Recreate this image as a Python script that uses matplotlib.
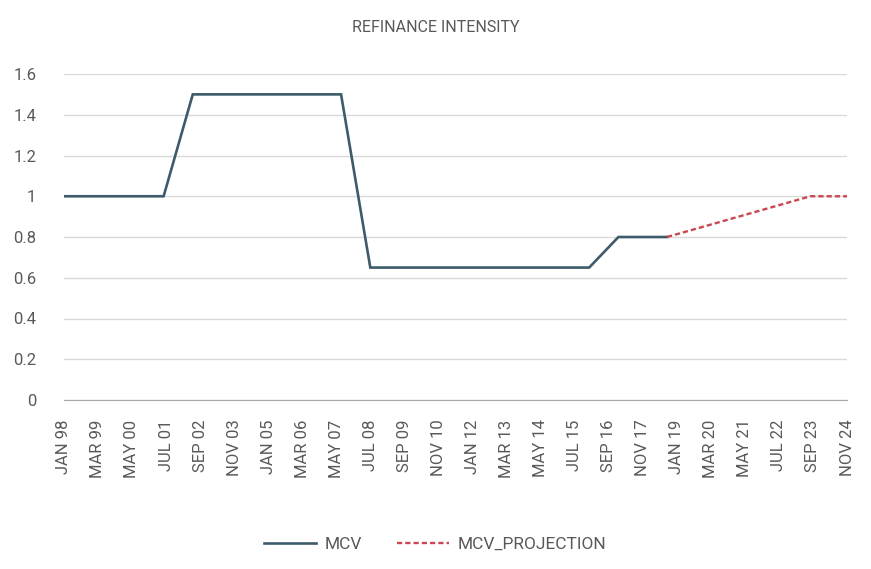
from datetime import datetime

import matplotlib
matplotlib.use("Agg")
import matplotlib.pyplot as plt
import pandas as pd

# breakpoints of the series (monthly dates)
mcv_dates = ["1998-01-01", "2001-06-01", "2002-06-01", "2007-07-01",
             "2008-07-01", "2016-01-01", "2017-01-01", "2018-09-01"]
mcv_values = [1.0, 1.0, 1.5, 1.5, 0.65, 0.65, 0.8, 0.8]

proj_dates = ["2018-09-01", "2023-08-01", "2024-11-01"]
proj_values = [0.8, 1.0, 1.0]

# tick labels every 14 months
tick_dates = pd.date_range("1998-01-01", "2024-11-01", freq="14MS")

y_ticks = [0, 0.2, 0.4, 0.6, 0.8, 1, 1.2, 1.4, 1.6]
y_labels = ["0", "0.2", "0.4", "0.6", "0.8", "1", "1.2", "1.4", "1.6"]

if __name__ == '__main__':
    plt.rcParams["font.family"] = ["Roboto", "DejaVu Sans"]
    text_color = "#595959"

    fig = plt.figure(figsize=(8.71, 5.69), dpi=100)
    ax = fig.add_axes([64 / 871, 1 - 400 / 569, 783 / 871, 326 / 569])

    ax.plot(pd.to_datetime(mcv_dates), mcv_values, color="#3e5b6c", lw=1.9,
            label="MCV", solid_joinstyle="miter")
    ax.plot(pd.to_datetime(proj_dates), proj_values, color="#c9474f", lw=1.7,
            ls=(0, (2.2, 1.3)), label="MCV_PROJECTION")

    ax.set_xlim(datetime(1998, 1, 1), datetime(2024, 11, 1))
    ax.set_ylim(0, 1.6)
    ax.set_xticks(tick_dates)
    ax.set_xticklabels([d.strftime("%b %y").upper() for d in tick_dates],
                       rotation=90, fontsize=12, color=text_color)
    ax.set_yticks(y_ticks)
    ax.set_yticklabels(y_labels, fontsize=12, color=text_color)

    ax.grid(axis="y", color="#d9d9d9", lw=1)
    ax.set_axisbelow(True)
    for side in ["top", "right", "left"]:
        ax.spines[side].set_visible(False)
    ax.spines["bottom"].set_color("#a6a6a6")
    ax.tick_params(axis="both", length=0)
    ax.tick_params(axis="x", pad=14)
    ax.tick_params(axis="y", pad=20)

    fig.text(0.5, 1 - 27 / 569, "REFINANCE INTENSITY", ha="center", va="center",
             fontsize=11.5, color=text_color)

    fig.legend(loc="center", bbox_to_anchor=(0.5, 1 - 544 / 569), ncol=2,
               frameon=False, fontsize=12.5, handlelength=3.0, columnspacing=2.0,
               handletextpad=0.5, labelcolor=text_color)

    fig.savefig("out.png", dpi=100)
